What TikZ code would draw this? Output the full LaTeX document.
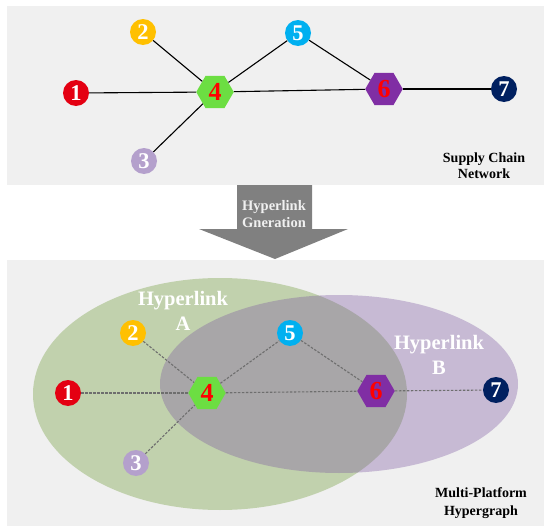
\documentclass[tikz,border=0pt]{standalone}
\usepackage{fontspec}
\setmainfont{Liberation Serif}
\usetikzlibrary{shapes.geometric}
\definecolor{panelbg}{RGB}{240,240,240}
\definecolor{cA}{RGB}{228,0,18}
\definecolor{cB}{RGB}{255,192,0}
\definecolor{cC}{RGB}{180,160,204}
\definecolor{cD}{RGB}{108,222,66}
\definecolor{cE}{RGB}{0,176,240}
\definecolor{cF}{RGB}{128,46,164}
\definecolor{cG}{RGB}{0,32,96}
\definecolor{hgreen}{RGB}{193,209,173}
\definecolor{hpurple}{RGB}{123,86,160}
\definecolor{arrowgray}{RGB}{128,128,128}
\definecolor{dashgray}{RGB}{110,110,110}
\begin{document}
\begin{tikzpicture}[x=1pt,y=-1pt,
  panel/.style={fill=panelbg,draw=none},
  cnode/.style={circle,fill=#1,minimum size=26pt,inner sep=0pt,text=white,
    font=\fontsize{22.5}{22.5}\selectfont\bfseries},
  hnode/.style={regular polygon,regular polygon sides=6,fill=#1,minimum size=37.5pt,inner sep=0pt},
  hlab/.style={font=\fontsize{26}{26}\selectfont\bfseries,text=red,inner sep=0pt},
  solidedge/.style={line width=1.1pt,draw=black},
  dashedge/.style={line width=1.1pt,draw=dashgray,dash pattern=on 2.5pt off 1.5pt},
  caption/.style={align=center,font=\fontsize{14}{15.5}\selectfont\bfseries,text=black},
  hypname/.style={align=center,font=\fontsize{20.5}{25}\selectfont\bfseries,text=white},
  arrowtext/.style={align=center,font=\fontsize{14.5}{17}\selectfont\bfseries,text=panelbg}
]
\useasboundingbox (0,0) rectangle (550,530);
\fill[white] (0,0) rectangle (550,530);

% top panel
\path[panel] (7,6) rectangle (544,185);
\node[cnode=cA] (t1) at (76,93) {1};
\node[cnode=cB] (t2) at (143,32) {2};
\node[cnode=cC] (t3) at (144,161) {3};
\node[hnode=cD,label={[hlab]center:4}] (t4) at (215,92) {};
\node[cnode=cE] (t5) at (298,33) {5};
\node[hnode=cF,label={[hlab]center:6}] (t6) at (384,89) {};
\node[cnode=cG] (t7) at (504,89) {7};
\draw[solidedge] (t1) -- (t4);
\draw[solidedge] (t2) -- (t4);
\draw[solidedge] (t3) -- (t4);
\draw[solidedge] (t4) -- (t5);
\draw[solidedge] (t4) -- (t6);
\draw[solidedge] (t5) -- (t6);
\draw[solidedge] (t6) -- (t7);
\node[caption] (cap1) at (484,165.5) {Supply Chain\\Network};

% arrow
\fill[arrowgray] (237,185) -- (312,185) -- (312,229) -- (348,229) -- (275,259)
  -- (199,229) -- (237,229) -- cycle;
\node[arrowtext] (arrlab) at (274,214.5) {Hyperlink\\Gneration};

% bottom panel
\path[panel] (7,260) rectangle (544,526);
\fill[hgreen] (220,394) ellipse [x radius=187pt, y radius=116pt];
\fill[hpurple,fill opacity=0.35] (339,384) ellipse [x radius=179pt, y radius=89pt];
\node[hypname] (hA) at (183,310.5) {Hyperlink\\A};
\node[hypname] (hB) at (439,354.5) {Hyperlink\\B};

\node[cnode=cA] (b1) at (68,393) {1};
\node[cnode=cB] (b2) at (133,333) {2};
\node[cnode=cC] (b3) at (136,463) {3};
\node[hnode=cD,label={[hlab]center:4}] (b4) at (207,393) {};
\node[cnode=cE] (b5) at (290,333) {5};
\node[hnode=cF,label={[hlab]center:6}] (b6) at (376,391) {};
\node[cnode=cG] (b7) at (496,390) {7};
\draw[dashedge] (b1) -- (b4);
\draw[dashedge] (b2) -- (b4);
\draw[dashedge] (b3) -- (b4);
\draw[dashedge] (b4) -- (b5);
\draw[dashedge] (b4) -- (b6);
\draw[dashedge] (b5) -- (b6);
\draw[dashedge] (b6) -- (b7);
\node[caption,font=\fontsize{14}{17.5}\selectfont\bfseries] (cap2) at (481,503) {Multi-Platform\\Hypergraph};
\end{tikzpicture}
\end{document}
